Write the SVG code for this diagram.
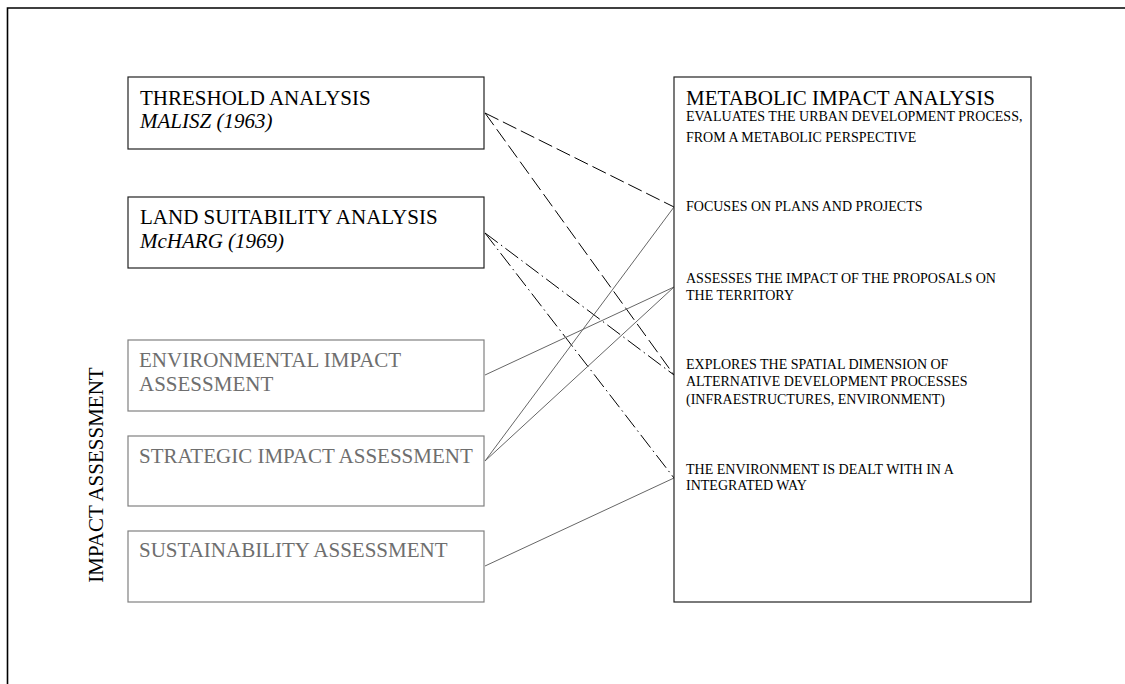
<svg xmlns="http://www.w3.org/2000/svg" width="1125" height="684" viewBox="0 0 1125 684">
  <style>
    text { font-family: "Liberation Serif", "Times New Roman", serif; }
    .title { font-size: 21px; fill: #000; }
    .sub { font-size: 21px; font-style: italic; fill: #000; }
    .grey { font-size: 21px; fill: #6e6e6e; }
    .small { font-size: 14px; fill: #000; }
    .box { fill: #fff; stroke: #222; stroke-width: 1.2; }
    .gbox { fill: #fff; stroke: #808080; stroke-width: 1.2; }
    .solid { stroke: #666; stroke-width: 1; fill: none; }
    .dash { stroke: #000; stroke-width: 1; fill: none; stroke-dasharray: 15 5; }
    .dashdot { stroke: #000; stroke-width: 1; fill: none; stroke-dasharray: 16 4 1.5 4; }
  </style>

  <!-- page frame -->
  <path d="M7.5 690 V8 H1130" fill="none" stroke="#000" stroke-width="1.6"/>

  <!-- side label -->
  <text class="title" transform="translate(103 475) rotate(-90)" text-anchor="middle">IMPACT ASSESSMENT</text>

  <!-- connectors -->
  <g id="connectors">
    <line class="dash" x1="485" y1="113" x2="674" y2="207"/>
    <line class="dash" x1="485" y1="113" x2="674" y2="375"/>
    <line class="dashdot" x1="485" y1="233" x2="674" y2="375"/>
    <line class="dashdot" x1="485" y1="233" x2="674" y2="478"/>
    <line class="solid" x1="485" y1="375" x2="674" y2="287"/>
    <line class="solid" x1="485" y1="461" x2="674" y2="207"/>
    <line class="solid" x1="485" y1="461" x2="674" y2="287"/>
    <line class="solid" x1="485" y1="566" x2="674" y2="478"/>
  </g>

  <g id="threshold">
    <rect class="box" x="128" y="77" width="356" height="72"/>
    <text class="title" x="140" y="105">THRESHOLD ANALYSIS</text>
    <text class="sub" x="140" y="128">MALISZ (1963)</text>
  </g>

  <g id="land-suitability">
    <rect class="box" x="128" y="197" width="356" height="71"/>
    <text class="title" x="140" y="224">LAND SUITABILITY ANALYSIS</text>
    <text class="sub" x="140" y="248">McHARG (1969)</text>
  </g>

  <g id="eia">
    <rect class="gbox" x="128" y="340" width="356" height="71"/>
    <text class="grey" x="139" y="367">ENVIRONMENTAL IMPACT</text>
    <text class="grey" x="139" y="391">ASSESSMENT</text>
  </g>

  <g id="sia">
    <rect class="gbox" x="128" y="436" width="356" height="70"/>
    <text class="grey" x="139" y="463">STRATEGIC IMPACT ASSESSMENT</text>
  </g>

  <g id="sa">
    <rect class="gbox" x="128" y="531" width="356" height="71"/>
    <text class="grey" x="139" y="557">SUSTAINABILITY ASSESSMENT</text>
  </g>

  <g id="metabolic">
    <rect class="box" x="674" y="77" width="357" height="525"/>
    <text class="title" x="686" y="105">METABOLIC IMPACT ANALYSIS</text>
    <text class="small" x="686" y="121">EVALUATES THE URBAN DEVELOPMENT PROCESS,</text>
    <text class="small" x="686" y="142">FROM A METABOLIC PERSPECTIVE</text>
    <text class="small" x="686" y="211">FOCUSES ON PLANS AND PROJECTS</text>
    <text class="small" x="686" y="283">ASSESSES THE IMPACT OF THE PROPOSALS ON</text>
    <text class="small" x="686" y="300">THE TERRITORY</text>
    <text class="small" x="686" y="369">EXPLORES THE SPATIAL DIMENSION OF</text>
    <text class="small" x="686" y="386">ALTERNATIVE DEVELOPMENT PROCESSES</text>
    <text class="small" x="686" y="404">(INFRAESTRUCTURES, ENVIRONMENT)</text>
    <text class="small" x="686" y="474">THE ENVIRONMENT IS DEALT WITH IN A</text>
    <text class="small" x="686" y="490">INTEGRATED WAY</text>
  </g>
</svg>
